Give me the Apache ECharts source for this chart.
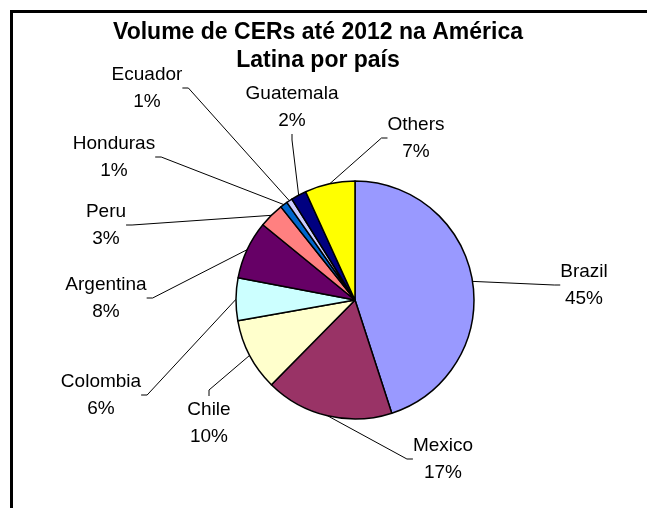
<!DOCTYPE html>
<html>
<head>
<meta charset="utf-8">
<script src="https://cdn.jsdelivr.net/npm/echarts@6/dist/echarts.min.js"></script>
<style>
html,body{margin:0;padding:0;background:#fff;}
#chart{width:647px;height:508px;}
</style>
</head>
<body>
<div id="chart"></div>
<script>
// ---- data ----
const titleText = 'Volume de CERs até 2012 na América\nLatina por país';
const categories = ['Brazil', 'Mexico', 'Chile', 'Colombia', 'Argentina', 'Peru', 'Honduras', 'Ecuador', 'Guatemala', 'Others'];
const values = [45.0, 17.4, 9.8, 5.8, 7.9, 3.4, 1.0, 0.8, 2.1, 6.8];
const sliceColors = ['#9999FF', '#993366', '#FFFFCC', '#CCFFFF', '#660066', '#FF8080', '#0066CC', '#CCCCFF', '#000080', '#FFFF00'];

// ---- label placement (layout, not data): centre of each label block ----
const labelCentres = {
  Brazil: [584, 285],
  Mexico: [443, 459],
  Chile: [209, 423],
  Colombia: [101, 395],
  Argentina: [106, 298],
  Peru: [106, 225],
  Honduras: [114, 157],
  Ecuador: [147, 88],
  Guatemala: [292, 107],
  Others: [416, 138]
};

const FONT = "'Liberation Sans', Arial, sans-serif";
const chart = echarts.init(document.getElementById('chart'), null, {renderer: 'canvas'});

const seriesData = categories.map((name, i) => ({
  name: name,
  value: values[i],
  itemStyle: {color: sliceColors[i]}
}));

chart.setOption({
  backgroundColor: '#ffffff',
  animation: false,
  title: {
    text: titleText,
    left: 313,
    top: 14,
    textAlign: 'center',
    textStyle: {
      fontFamily: FONT,
      fontSize: 23,
      fontWeight: 'bold',
      color: '#000',
      lineHeight: 28
    }
  },
  graphic: [{
    type: 'rect',
    z: 0,
    shape: {x: 11.5, y: 11.5, width: 800, height: 700},
    style: {fill: 'none', stroke: '#000', lineWidth: 3}
  }],
  series: [{
    type: 'pie',
    center: [355, 300],
    radius: 119,
    startAngle: 90,
    clockwise: true,
    avoidLabelOverlap: false,
    minShowLabelAngle: 0,
    percentPrecision: 0,
    data: seriesData,
    itemStyle: {borderColor: '#000', borderWidth: 1.5},
    emphasis: {disabled: true},
    label: {
      show: true,
      position: 'outside',
      formatter: '{b}\n{d}%',
      fontFamily: FONT,
      fontSize: 19,
      lineHeight: 27,
      color: '#000',
      align: 'center'
    },
    labelLine: {
      show: true,
      length: 10,
      length2: 6,
      lineStyle: {color: '#000', width: 1}
    },
    labelLayout: function (params) {
      const c = labelCentres[params.name] || labelCentres[categories[params.dataIndex]];
      return {x: c[0], y: c[1], align: 'center', verticalAlign: 'middle', hideOverlap: false};
    }
  }]
});
</script>
</body>
</html>
